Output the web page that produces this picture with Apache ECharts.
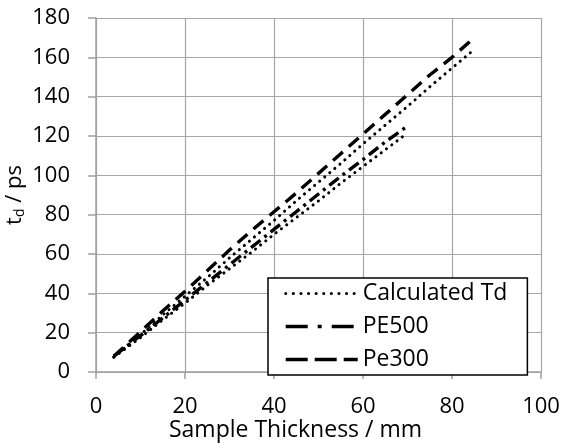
<!DOCTYPE html>
<html>
<head>
<meta charset="utf-8">
<script src="https://cdn.jsdelivr.net/npm/echarts@6/dist/echarts.min.js"></script>
<style>html,body{margin:0;padding:0;background:#fff;}#c{width:562px;height:443px;}</style>
</head>
<body>
<div id="c"></div>
<script>
// Data
var thicknessPe300 = [4, 10, 15, 20, 25, 30, 35, 40, 45, 50, 55, 60, 65, 70, 75, 80, 85];
var tdPe300 = [8, 20.5, 31, 41, 51.5, 62, 72, 81.5, 91, 101, 111, 121, 131, 141, 151, 160, 170];
var calcPe300 = [7.7, 19, 29, 38.5, 48, 58, 67.5, 77, 87, 96.5, 106, 116, 125.5, 135, 145, 154.5, 164];

var thicknessPE500 = [4, 10, 15, 20, 25, 30, 35, 40, 45, 50, 55, 60, 65, 70];
var tdPE500 = [8, 18.5, 27.5, 36.5, 45.5, 54.5, 63.5, 72.5, 81.5, 90.5, 99.5, 108, 117, 125];
var calcPE500 = [7.5, 17.5, 26.5, 35, 44, 52.5, 61, 70, 78.5, 87, 96, 104.5, 113, 121.5];

var xTicks = [0, 20, 40, 60, 80, 100];
var yTicks = [0, 20, 40, 60, 80, 100, 120, 140, 160, 180];

function pairs(xs, ys) { return xs.map(function (x, i) { return [x, ys[i]]; }); }

var FONT = '"Open Sans", sans-serif';
var dotStyle = { color: '#000', width: 3, type: [0.1, 6.5], cap: 'round' };
var dashDotStyle = { color: '#000', width: 3.4, type: [12, 5, 3, 5], cap: 'butt' };
var dashStyle = { color: '#000', width: 3.4, type: [13, 8], cap: 'butt' };
var hidden = { opacity: 0, color: '#000' };

var chart = echarts.init(document.getElementById('c'));
chart.setOption({
  animation: false,
  backgroundColor: '#fff',
  color: ['#000'],
  grid: { left: 96, right: 21, top: 18, bottom: 71, containLabel: false, outerBoundsMode: 'none' },
  xAxis: {
    type: 'value', min: xTicks[0], max: xTicks[xTicks.length - 1], interval: 20,
    name: 'Sample Thickness / mm', nameLocation: 'middle', nameGap: 47, nameMoveOverlap: false,
    nameTextStyle: { color: '#000', fontSize: 23, fontFamily: FONT, padding: [0, 46, 0, 0] },
    axisLine: { show: true, lineStyle: { color: '#A0A0A0', width: 1.5 } },
    axisTick: { show: true, length: 7, inside: false, lineStyle: { color: '#A0A0A0', width: 1.5 } },
    axisLabel: { color: '#000', fontSize: 22, fontFamily: FONT, margin: 24 },
    splitLine: { show: true, lineStyle: { color: '#A6A6A6', width: 1.2 } }
  },
  yAxis: {
    type: 'value', min: yTicks[0], max: yTicks[yTicks.length - 1], interval: 20,
    name: '{a|t}{b|d}{a| / ps}', nameLocation: 'middle', nameGap: 69, nameRotate: 90, nameMoveOverlap: false,
    nameTextStyle: {
      color: '#000', fontFamily: FONT,
      rich: {
        a: { fontSize: 22, fontFamily: FONT, color: '#000' },
        b: { fontSize: 14, fontFamily: FONT, color: '#000', padding: [10, 0, 0, 0] }
      }
    },
    axisLine: { show: true, lineStyle: { color: '#A0A0A0', width: 1.5 } },
    axisTick: { show: true, length: 8, inside: false, lineStyle: { color: '#A0A0A0', width: 1.5 } },
    axisLabel: { color: '#000', fontSize: 22, fontFamily: FONT, margin: 26 },
    splitLine: { show: true, lineStyle: { color: '#A6A6A6', width: 1.2 } }
  },
  legend: {
    left: 268, top: 278,
    orient: 'vertical',
    backgroundColor: '#fff', borderColor: '#000', borderWidth: 1.5, borderRadius: 0,
    padding: [4, 20, 4, 16],
    itemWidth: 72, itemHeight: 20, itemGap: 10,
    textStyle: { color: '#000', fontSize: 23, fontFamily: FONT },
    data: [
      { name: 'Calculated Td', itemStyle: hidden, lineStyle: { color: '#000', width: 3, type: [0.1, 7.5], cap: 'round' } },
      { name: 'PE500', itemStyle: hidden, lineStyle: { color: '#000', width: 3.4, type: [22, 10, 4, 10], cap: 'butt' } },
      { name: 'Pe300', itemStyle: hidden, lineStyle: { color: '#000', width: 3.4, type: [22, 7], cap: 'butt' } }
    ]
  },
  series: [
    { name: 'Calculated Td', type: 'line', data: pairs(thicknessPe300, calcPe300), symbol: 'none', itemStyle: { color: '#000' }, lineStyle: dotStyle, z: 3 },
    { name: 'Calculated Td', type: 'line', data: pairs(thicknessPE500, calcPE500), symbol: 'none', itemStyle: { color: '#000' }, lineStyle: dotStyle, z: 3 },
    { name: 'PE500', type: 'line', data: pairs(thicknessPE500, tdPE500), symbol: 'none', itemStyle: { color: '#000' }, lineStyle: dashDotStyle, z: 3 },
    { name: 'Pe300', type: 'line', data: pairs(thicknessPe300, tdPe300), symbol: 'none', itemStyle: { color: '#000' }, lineStyle: dashStyle, z: 3 }
  ]
});
</script>
</body>
</html>
